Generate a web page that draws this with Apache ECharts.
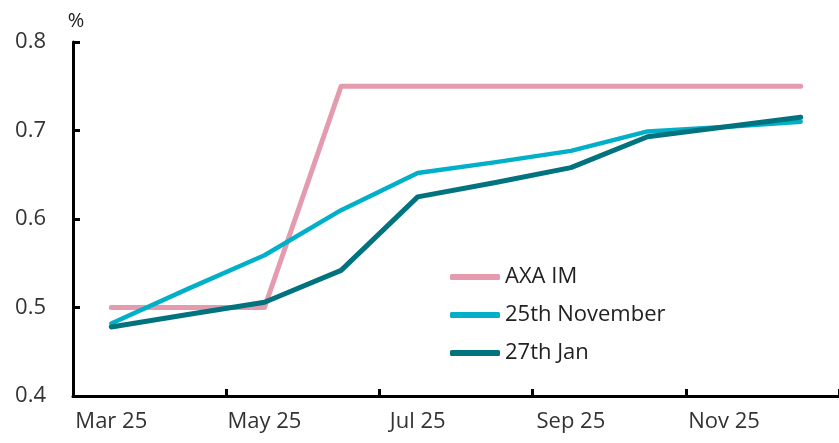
<!DOCTYPE html>
<html>
<head>
<meta charset="utf-8">
<script src="https://cdn.jsdelivr.net/npm/echarts@6/dist/echarts.min.js"></script>
<style>
html, body { margin: 0; padding: 0; background: #fff; }
#main { width: 839px; height: 443px; }
</style>
</head>
<body>
<div id="main"></div>
<script>
// months on the x axis
var months = ['Mar 25', 'Apr 25', 'May 25', 'Jun 25', 'Jul 25', 'Aug 25', 'Sep 25', 'Oct 25', 'Nov 25', 'Dec 25'];
// policy rate path, %
var axaIm = [0.5, 0.5, 0.5, 0.75, 0.75, 0.75, 0.75, 0.75, 0.75, 0.75];
var nov25 = [0.482, 0.521, 0.559, 0.61, 0.652, 0.664, 0.677, 0.699, 0.704, 0.71];
var jan27 = [0.478, 0.492, 0.506, 0.542, 0.625, 0.641, 0.658, 0.693, 0.704, 0.715];
var yTicks = [0.4, 0.5, 0.6, 0.7, 0.8];

var font = '"Open Sans", "Noto Sans", sans-serif';

function lineSeries(name, data, color, width){
	return {
		name: name,
		type: 'line',
		data: data,
		symbol: 'none',
		smooth: false,
		lineStyle: { color: color, width: width, cap: 'round', join: 'round' },
		itemStyle: { color: color }
	};
}

var chart = echarts.init(document.getElementById('main'));
chart.setOption({
	animation: false,
	backgroundColor: '#fff',
	grid: { left: 73, right: -14, top: 42, bottom: 47, containLabel: false },
	legend: {
		orient: 'vertical',
		left: 445,
		top: 261,
		icon: 'roundRect',
		itemWidth: 50,
		itemHeight: 6,
		itemGap: 16,
		textStyle: { fontFamily: font, fontSize: 22, color: '#222', padding: [0, 0, 0, 0] },
		data: ['AXA IM', '25th November', '27th Jan']
	},
	xAxis: {
		type: 'category',
		data: months,
		boundaryGap: true,
		axisLine: { lineStyle: { color: '#000', width: 3 } },
		axisTick: { show: true, inside: true, length: 7, interval: 1, lineStyle: { color: '#000', width: 3 } },
		axisLabel: { interval: 1, margin: 15, fontFamily: font, fontSize: 22, color: '#333' },
		splitLine: { show: false }
	},
	yAxis: {
		type: 'value',
		min: yTicks[0],
		max: yTicks[yTicks.length - 1],
		interval: 0.1,
		name: '%',
		nameLocation: 'end',
		nameGap: 11,
		nameTextStyle: { fontFamily: font, fontSize: 20, color: '#222', align: 'center', padding: [0, 0, 0, 6] },
		axisLine: { show: true, lineStyle: { color: '#000', width: 3 } },
		axisTick: { show: true, inside: true, length: 7, lineStyle: { color: '#000', width: 3 } },
		axisLabel: {
			margin: 27,
			fontFamily: font,
			fontSize: 22,
			color: '#333',
			formatter: function(v){ return v.toFixed(1); }
		},
		splitLine: { show: false }
	},
	series: [
		lineSeries('AXA IM', axaIm, '#E39BAD', 5),
		lineSeries('25th November', nov25, '#00AFC8', 4.5),
		lineSeries('27th Jan', jan27, '#00737E', 5)
	]
});
</script>
</body>
</html>
